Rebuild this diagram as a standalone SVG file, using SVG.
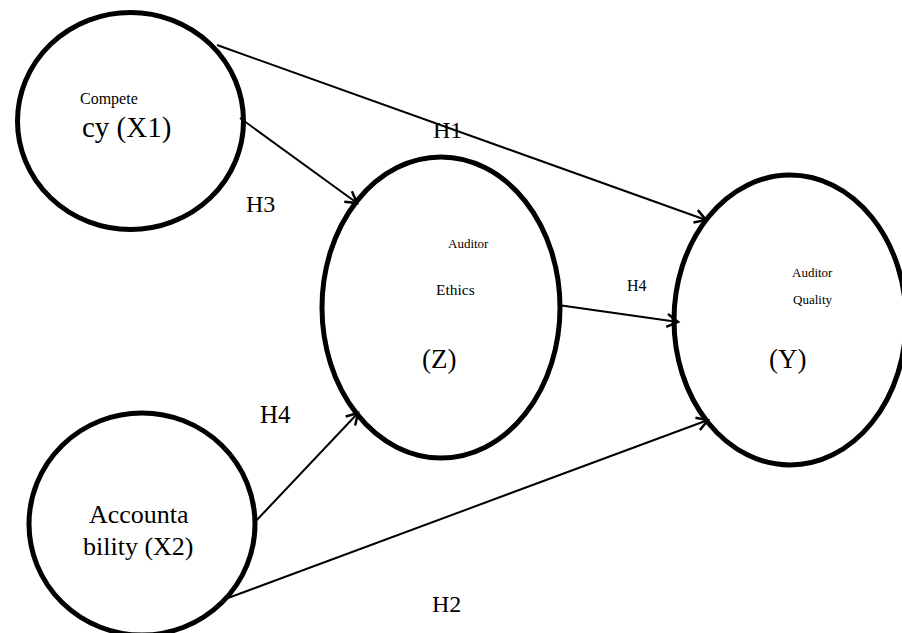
<svg xmlns="http://www.w3.org/2000/svg" width="902" height="633" viewBox="0 0 902 633">
<style>
.node{fill:#fff;stroke:#000;stroke-width:5}
.t{font-family:"Liberation Serif","Times New Roman",serif;fill:#000}
.c{fill:none;stroke:#000;stroke-width:2}
</style>
<defs>
<marker id="arr" markerUnits="userSpaceOnUse" markerWidth="16" markerHeight="16" refX="12" refY="8" orient="auto">
<path d="M1,1.5 L12,8 L1,14.5" fill="none" stroke="#000" stroke-width="2.5"/>
</marker>
</defs>
<rect width="902" height="633" fill="#fff"/>
<g id="x1">
<ellipse class="node" cx="130.5" cy="121" rx="113" ry="108.5"/>
<text class="t" x="80" y="104" font-size="16">Compete</text>
<text class="t" x="82" y="137" font-size="29">cy (X1)</text>
</g>
<g id="x2">
<ellipse class="node" cx="142" cy="524" rx="113" ry="111"/>
<text class="t" x="89" y="523" font-size="26">Accounta</text>
<text class="t" x="83" y="555" font-size="26">bility (X2)</text>
</g>
<g id="z">
<ellipse class="node" cx="441" cy="307.5" rx="119" ry="150.5"/>
<text class="t" x="448" y="248" font-size="13">Auditor</text>
<text class="t" x="436" y="295" font-size="15.5">Ethics</text>
<text class="t" x="422" y="368" font-size="27">(Z)</text>
</g>
<g id="y">
<ellipse class="node" cx="790" cy="320" rx="116" ry="145"/>
<text class="t" x="792" y="277" font-size="13">Auditor</text>
<text class="t" x="793" y="304" font-size="13">Quality</text>
<text class="t" x="769" y="368" font-size="27">(Y)</text>
</g>
<g id="connectors">
<line class="c" x1="217" y1="45" x2="706" y2="220" marker-end="url(#arr)"/>
<line class="c" x1="240" y1="118" x2="357" y2="203" marker-end="url(#arr)"/>
<line class="c" x1="254" y1="523" x2="358" y2="413" marker-end="url(#arr)"/>
<line class="c" x1="558" y1="305" x2="678" y2="322" stroke-width="3" marker-end="url(#arr)"/>
<line class="c" x1="228" y1="598" x2="708" y2="420" marker-end="url(#arr)"/>
</g>
<g id="labels">
<text class="t" x="433" y="138" font-size="24">H1</text>
<text class="t" x="246" y="212" font-size="24">H3</text>
<text class="t" x="260" y="423" font-size="25">H4</text>
<text class="t" x="627" y="291" font-size="16">H4</text>
<text class="t" x="432" y="612" font-size="24">H2</text>
</g>
</svg>
